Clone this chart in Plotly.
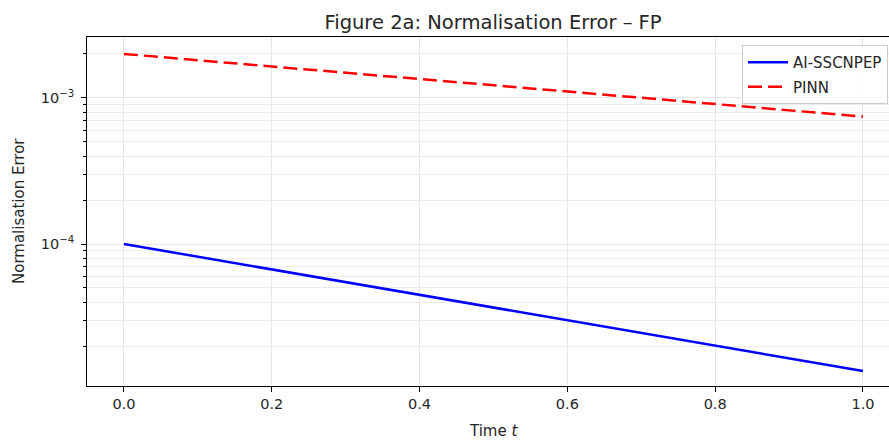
import plotly.graph_objects as go

# Data
t_values = [0.0, 0.2, 0.4, 0.6, 0.8, 1.0]
ai_sscnpep_error = [1.0e-4, 6.7e-5, 4.5e-5, 3.0e-5, 2.0e-5, 1.35e-5]
pinn_error = [2.0e-3, 1.64e-3, 1.35e-3, 1.1e-3, 9.0e-4, 7.45e-4]

x_tick_vals = [0.0, 0.2, 0.4, 0.6, 0.8, 1.0]
x_tick_text = ["0.0", "0.2", "0.4", "0.6", "0.8", "1.0"]
y_tick_vals = [1e-4, 1e-3]
y_tick_text = ["10<sup>\u22124</sup>", "10<sup>\u22123</sup>"]
y_minor_vals = [m * 1e-5 for m in range(2, 10)] + [m * 1e-4 for m in range(2, 10)] + [m * 1e-3 for m in range(2, 4)]

FONT = "DejaVu Sans"
TXT = "#262626"
W, H = 889, 442
L, R, T, B = 87, 0, 37, 56
PW, PH = W - L - R, H - T - B

fig = go.Figure()
fig.add_trace(go.Scatter(x=t_values, y=ai_sscnpep_error, mode="lines", name="AI-SSCNPEP",
                         legendgroup="a", line=dict(color="#0000ff", width=2.5)))
fig.add_trace(go.Scatter(x=t_values, y=pinn_error, mode="lines", name="PINN",
                         legendgroup="b", line=dict(color="#ff0000", width=2.5, dash="14px,6px")))

fig.update_layout(
    width=W, height=H,
    margin=dict(l=L, r=R, t=T, b=B, autoexpand=False),
    paper_bgcolor="white", plot_bgcolor="white",
    font=dict(family=FONT, color=TXT, size=14.5),
    title=dict(text="Figure 2a: Normalisation Error \u2013 FP", x=493 / W, xanchor="center",
               y=1 - 22 / H, yanchor="middle", font=dict(family=FONT, size=19.5, color=TXT)),
    showlegend=True,
    legend=dict(x=(742 - L) / PW, xanchor="left", y=1 - (45 - T) / PH, yanchor="top",
                bgcolor="rgba(255,255,255,0.85)", bordercolor="#cccccc", borderwidth=1,
                font=dict(family=FONT, size=15, color=TXT), tracegroupgap=2, itemwidth=40),
    annotations=[
        dict(text="Time <i>t</i>", x=493 / W, y=1 - 431 / H, xref="paper", yref="paper",
             xanchor="center", yanchor="middle", showarrow=False,
             font=dict(family=FONT, size=15, color=TXT)),
        dict(text="Normalisation Error", x=19 / W, y=1 - 211 / H, xref="paper", yref="paper",
             xanchor="center", yanchor="middle", showarrow=False, textangle=-90,
             font=dict(family=FONT, size=15, color=TXT)),
    ],
)
# convert annotation coords (figure pixels) to plot-area paper coords
for a in fig.layout.annotations:
    px = a.x * W
    py = (1 - a.y) * H
    a.x = (px - L) / PW
    a.y = 1 - (py - T) / PH

fig.update_xaxes(
    range=[-0.05, 1.0352], tickvals=x_tick_vals, ticktext=x_tick_text, automargin=False,
    showline=True, linecolor="black", linewidth=1, mirror=True,
    ticks="outside", ticklen=5, tickcolor="black", tickwidth=1,
    showgrid=True, gridcolor="#e6e6e6", gridwidth=1, zeroline=False,
    tickfont=dict(family=FONT, size=14.5, color=TXT),
)
fig.update_yaxes(
    type="log", range=[-4.972, -2.583], tickvals=y_tick_vals, ticktext=y_tick_text, automargin=False,
    showline=True, linecolor="black", linewidth=1, mirror=False,
    ticks="outside", ticklen=5, tickcolor="black", tickwidth=1,
    showgrid=True, gridcolor="#e6e6e6", gridwidth=1, zeroline=False,
    tickfont=dict(family=FONT, size=14.5, color=TXT), ticklabelstandoff=4,
    minor=dict(tickvals=y_minor_vals, ticks="outside", ticklen=3, tickcolor="black",
               showgrid=True, gridcolor="#ececec", gridwidth=1),
)

fig.write_html("out.html", config={"displayModeBar": False},
               post_script="document.body.style.margin='0';document.body.style.overflow='hidden';")
